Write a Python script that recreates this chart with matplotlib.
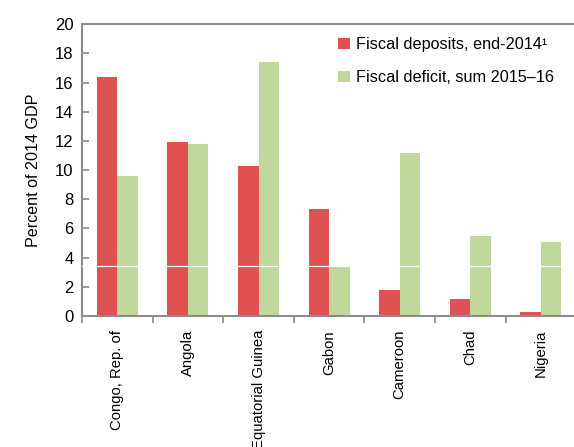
import numpy as np
import matplotlib.pyplot as plt
from matplotlib.ticker import FixedLocator

plt.rcParams['font.family'] = ['Liberation Sans Narrow', 'Liberation Sans', 'DejaVu Sans']

### Data
countries = ["Congo, Rep. of", "Angola", "Equatorial Guinea", "Gabon",
             "Cameroon", "Chad", "Nigeria"]
deposits = [16.35, 11.9, 10.3, 7.33, 1.8, 1.16, 0.25]
deficit = [9.6, 11.8, 17.4, 3.42, 11.15, 5.5, 5.1]

red = "#E05252"
green = "#C0D89B"
spine_col = "#8C8C8C"

fig = plt.figure(figsize=(5.74, 4.47), dpi=100)
ax = fig.add_axes([0.1429, 0.293, 0.861, 0.653])

x = np.arange(len(countries))
w = 0.29
ax.bar(x - w / 2, deposits, w, color=red, label="Fiscal deposits, end-2014\u00b9", zorder=2)
ax.bar(x + w / 2, deficit, w, color=green, label="Fiscal deficit, sum 2015\u201316", zorder=2)
ax.axhline(3.45, color="white", lw=0.9, zorder=3)

ax.set_xlim(-0.5, len(countries) - 0.5)
ax.set_ylim(0, 20)
ax.set_yticks(np.arange(0, 21, 2))
ax.set_xticks(x)
ax.set_xticklabels(countries, rotation=90, fontsize=10.7)
ax.tick_params(axis="x", which="major", length=0, pad=10)
ax.xaxis.set_minor_locator(FixedLocator(np.arange(-0.5, len(countries), 1)))
ax.tick_params(axis="x", which="minor", length=5, width=1.2, color=spine_col, direction="out")
ax.tick_params(axis="y", direction="in", length=5, width=1.2, color=spine_col, labelsize=12, pad=6)
ax.set_ylabel("Percent of 2014 GDP", fontsize=11.6, labelpad=10)

for s in ["left", "bottom", "top"]:
    ax.spines[s].set_color(spine_col)
    ax.spines[s].set_linewidth(1.5)
ax.spines["right"].set_visible(False)

ax.legend(loc="upper right", bbox_to_anchor=(0.985, 1.005), frameon=False, fontsize=11.7,
          handlelength=0.7, handleheight=0.7, handletextpad=0.4, labelspacing=1.1)

fig.savefig("out.png", dpi=100)
